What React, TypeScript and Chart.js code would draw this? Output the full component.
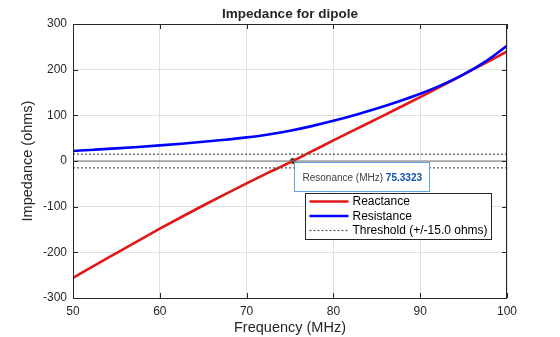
import React, { useEffect, useRef } from "react";
import { Chart, registerables } from "chart.js";

Chart.register(...registerables);

// ---- data ----
const frequencies = [50, 52.5, 55, 57.5, 60, 62.5, 65, 67.5, 70, 72.5, 75, 77.5, 80, 82.5, 85, 87.5, 90, 92.5, 95, 97.5, 100];
const reactance = [-256, -228.5, -201.5, -174.7, -148.3, -122.6, -97.4, -72.9, -49, -25.6, -3, 21, 45, 68.7, 92.3, 116, 140, 164.5, 189.5, 214.5, 240];
const resistance = [22, 24.8, 27.7, 30.8, 34.2, 37.9, 42, 46.6, 51.8, 58.2, 66.4, 76.4, 88, 100.8, 114.8, 130.1, 147.1, 166.6, 189.6, 217.6, 252.1];
const thresholdValue = 15;
const resonanceFreq = 75.3323;
const xTickValues = [50, 60, 70, 80, 90, 100];
const yTickValues = [-300, -200, -100, 0, 100, 200, 300];
const chartTitle = "Impedance for dipole";
const xTitle = "Frequency (MHz)";
const yTitle = "Impedance (ohms)";
const seriesNames = ["Reactance", "Resistance", "Threshold (+/-15.0 ohms)"];
const datatipLabel = "Resonance (MHz)";

const FONT = "'Liberation Sans', Arial, Helvetica, sans-serif";
const RED = "rgb(226,24,24)";
const BLUE = "rgb(0,0,255)";
const DOT = "#5a5a5a";

const overlayPlugin = {
  id: "overlay",
  afterDraw(chart: any) {
    const { ctx, chartArea: a, scales } = chart;
    const xs = scales.x;
    const ys = scales.y;
    ctx.save();
    // box
    ctx.strokeStyle = "#262626";
    ctx.lineWidth = 1;
    ctx.strokeRect(Math.round(a.left) + 0.5, Math.round(a.top) + 0.5, Math.round(a.right - a.left) - 1, Math.round(a.bottom - a.top));
    // inward ticks
    const tl = 5;
    ctx.beginPath();
    xTickValues.forEach((v) => {
      const px = Math.round(xs.getPixelForValue(v)) + 0.5;
      ctx.moveTo(px, a.bottom);
      ctx.lineTo(px, a.bottom - tl);
      ctx.moveTo(px, a.top);
      ctx.lineTo(px, a.top + tl);
    });
    yTickValues.forEach((v) => {
      const py = Math.round(ys.getPixelForValue(v)) + 0.5;
      ctx.moveTo(a.left, py);
      ctx.lineTo(a.left + tl, py);
      ctx.moveTo(a.right, py);
      ctx.lineTo(a.right - tl, py);
    });
    ctx.stroke();

    // title
    ctx.fillStyle = "#262626";
    ctx.textAlign = "center";
    ctx.textBaseline = "middle";
    ctx.font = `bold 13.5px ${FONT}`;
    ctx.fillText(chartTitle, (a.left + a.right) / 2, 14);
    // axis titles
    ctx.font = `14.5px ${FONT}`;
    ctx.fillText(xTitle, (a.left + a.right) / 2, 328);
    ctx.save();
    ctx.translate(28, (a.top + a.bottom) / 2);
    ctx.rotate(-Math.PI / 2);
    ctx.fillText(yTitle, 0, 0);
    ctx.restore();

    // datatip
    const mx = xs.getPixelForValue(resonanceFreq);
    const my = ys.getPixelForValue(0);
    const bx = Math.round(mx) + 1.5;
    const by = Math.round(my) + 1.5;
    const bw = 135;
    const bh = 29;
    ctx.fillStyle = "#ffffff";
    ctx.fillRect(bx, by, bw, bh);
    ctx.strokeStyle = "rgb(95,165,230)";
    ctx.lineWidth = 1;
    ctx.strokeRect(bx, by, bw, bh);
    ctx.textAlign = "left";
    ctx.textBaseline = "middle";
    ctx.font = `10px ${FONT}`;
    ctx.fillStyle = "#404040";
    const lbl = datatipLabel + " ";
    ctx.fillText(lbl, bx + 8, by + 15.5);
    const lw = ctx.measureText(lbl).width;
    ctx.font = `bold 10px ${FONT}`;
    ctx.fillStyle = "rgb(20,80,175)";
    ctx.fillText(resonanceFreq.toFixed(4), bx + 8 + lw, by + 15.5);

    // legend
    const lx = 305.5, ly = 193.5, lW = 186, lH = 46;
    ctx.fillStyle = "#ffffff";
    ctx.fillRect(lx, ly, lW, lH);
    ctx.strokeStyle = "#262626";
    ctx.strokeRect(lx, ly, lW, lH);
    const rows = [
      { c: RED, w: 2.5, dash: [] as number[] },
      { c: BLUE, w: 2.5, dash: [] as number[] },
      { c: DOT, w: 1.2, dash: [2, 2] },
    ];
    ctx.font = `12px ${FONT}`;
    rows.forEach((r, i) => {
      const yy = ly + 8 + i * 14.5;
      ctx.beginPath();
      ctx.setLineDash(r.dash);
      ctx.strokeStyle = r.c;
      ctx.lineWidth = r.w;
      ctx.moveTo(lx + 4, yy);
      ctx.lineTo(lx + 43, yy);
      ctx.stroke();
      ctx.setLineDash([]);
      ctx.fillStyle = "#000000";
      ctx.fillText(seriesNames[i], lx + 47, yy + 0.5);
    });
    ctx.restore();
  },
};

export default function App() {
  const ref = useRef<HTMLCanvasElement | null>(null);
  useEffect(() => {
    if (!ref.current) return;
    const react = frequencies.map((f, i) => ({ x: f, y: reactance[i] }));
    const resist = frequencies.map((f, i) => ({ x: f, y: resistance[i] }));
    const fMin = frequencies[0];
    const fMax = frequencies[frequencies.length - 1];
    const chart = new Chart(ref.current, {
      type: "line",
      data: {
        datasets: [
          { label: "zero", data: [{ x: fMin, y: 0 }, { x: fMax, y: 0 }], borderColor: "#707070", borderWidth: 1, pointRadius: 0 },
          { label: "thrUp", data: [{ x: fMin, y: thresholdValue }, { x: fMax, y: thresholdValue }], borderColor: DOT, borderWidth: 1.3, borderDash: [2, 2], pointRadius: 0 },
          { label: "thrDn", data: [{ x: fMin, y: -thresholdValue }, { x: fMax, y: -thresholdValue }], borderColor: DOT, borderWidth: 1.3, borderDash: [2, 2], pointRadius: 0 },
          { label: seriesNames[1], data: resist, borderColor: BLUE, borderWidth: 2.6, pointRadius: 0, cubicInterpolationMode: "monotone" },
          { label: seriesNames[0], data: react, borderColor: RED, borderWidth: 2.6, pointRadius: 0, cubicInterpolationMode: "monotone" },
          { label: "resonance", data: [{ x: resonanceFreq, y: 0 }], showLine: false, pointRadius: 3.3, backgroundColor: "#1a1a1a", borderColor: "#f3efc8", borderWidth: 1 },
        ],
      },
      options: {
        animation: false,
        responsive: false,
        maintainAspectRatio: false,
        layout: { padding: { top: 24, right: 53, left: 0, bottom: 0 } },
        plugins: { legend: { display: false }, title: { display: false }, tooltip: { enabled: false } },
        scales: {
          x: {
            type: "linear",
            min: 50,
            max: 100,
            afterFit: (s: any) => { s.height = 39; },
            afterBuildTicks: (s: any) => { s.ticks = xTickValues.map((v) => ({ value: v })); },
            ticks: { color: "#262626", font: { family: FONT, size: 12 }, padding: 6 },
            grid: { color: "#e0e0e0", drawTicks: false, lineWidth: 1 },
            border: { display: false },
          },
          y: {
            type: "linear",
            min: -300,
            max: 300,
            afterFit: (s: any) => { s.width = 73; },
            afterBuildTicks: (s: any) => { s.ticks = yTickValues.map((v) => ({ value: v })); },
            ticks: { color: "#262626", font: { family: FONT, size: 12 }, padding: 6 },
            grid: { color: "#e0e0e0", drawTicks: false, lineWidth: 1 },
            border: { display: false },
          },
        },
      },
      plugins: [overlayPlugin],
    } as any);
    return () => chart.destroy();
  }, []);
  return (
    <div style={{ position: "fixed", left: 0, top: 0, width: 560, height: 337, background: "#ffffff" }}>
      <canvas ref={ref} width={560} height={337} style={{ width: 560, height: 337, display: "block" }} />
    </div>
  );
}
